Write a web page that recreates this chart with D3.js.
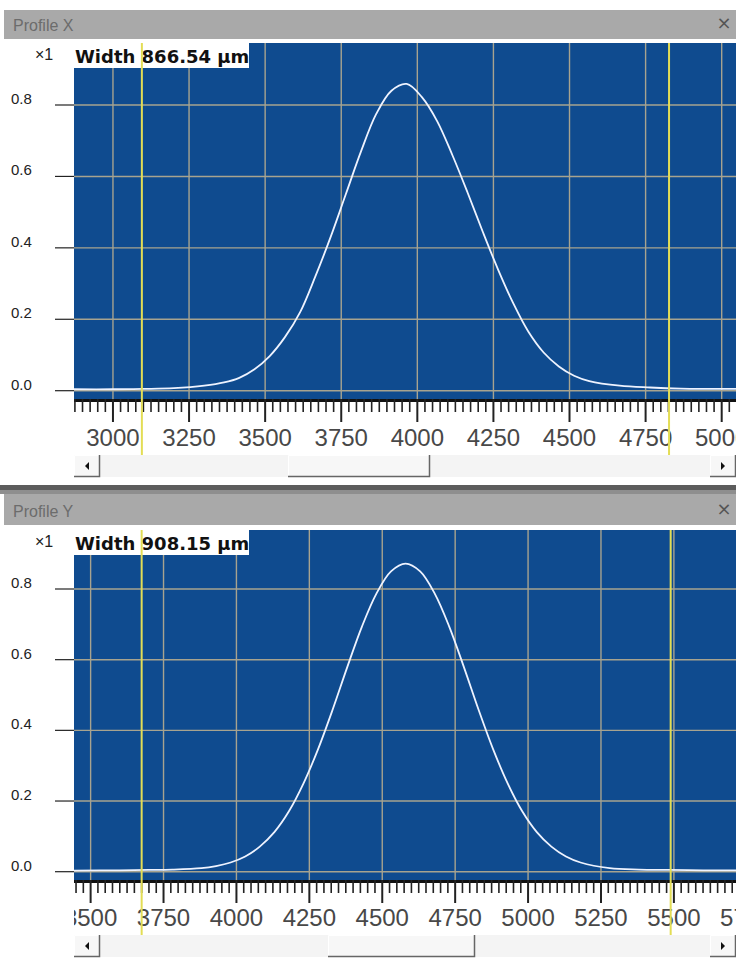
<!DOCTYPE html>
<html><head><meta charset="utf-8">
<script src="https://cdn.jsdelivr.net/npm/d3@7"></script>
<style>html,body{margin:0;padding:0;background:#ffffff;} svg{display:block;}</style>
</head><body>
<svg id="c" width="736" height="961"></svg>
<script>
// ---------- DATA ----------
const panelTitles = ["Profile X", "Profile Y"];
const widthLabels = ["Width 866.54 \u00b5m", "Width 908.15 \u00b5m"];
const scaleLabel = "\u00d71";

// Profile X (position in µm, normalized intensity)
const profileXPositions = [2872, 3000, 3100, 3200, 3300, 3365, 3415, 3465, 3515, 3565, 3615, 3665, 3715, 3765, 3815, 3865, 3915, 3965, 4015, 4065, 4115, 4165, 4215, 4265, 4315, 4365, 4415, 4465, 4515, 4565, 4665, 4765, 4865, 5047];
const profileXValues    = [0.004, 0.004, 0.005, 0.007, 0.014, 0.023, 0.036, 0.060, 0.097, 0.150, 0.220, 0.320, 0.430, 0.550, 0.670, 0.775, 0.840, 0.859, 0.822, 0.755, 0.660, 0.555, 0.445, 0.340, 0.245, 0.165, 0.107, 0.068, 0.042, 0.027, 0.014, 0.009, 0.006, 0.005];

// Profile Y
const profileYPositions = [3443, 3600, 3700, 3780, 3880, 3930, 3980, 4030, 4080, 4130, 4180, 4230, 4280, 4330, 4380, 4430, 4480, 4530, 4580, 4630, 4680, 4730, 4780, 4830, 4880, 4930, 4980, 5030, 5080, 5130, 5180, 5280, 5380, 5480, 5600, 5713];
const profileYValues    = [0.003, 0.004, 0.005, 0.006, 0.010, 0.016, 0.026, 0.043, 0.071, 0.112, 0.171, 0.250, 0.347, 0.459, 0.579, 0.693, 0.787, 0.850, 0.872, 0.850, 0.787, 0.693, 0.579, 0.459, 0.347, 0.250, 0.171, 0.112, 0.071, 0.043, 0.026, 0.010, 0.006, 0.005, 0.004, 0.004];

// Visible x ranges of each panel
const profileXDomain = [2872, 5047];
const profileYDomain = [3443, 5713];

// Cursor (yellow) positions
const profileXCursors = [3095, 4827];
const profileYCursors = [3675, 5489];

// Y ticks
const yTickValues = [0, 0.2, 0.4, 0.6, 0.8];
const yTickLabels = ["0.0", "0.2", "0.4", "0.6", "0.8"];
const majorTickStep = 250;
const minorTickStep = 25;

// ---------- LAYOUT ----------
const W = 736;
const plotLeft = 74, plotRight = 736;
const panels = [
  {title: panelTitles[0], label: widthLabels[0], pos: profileXPositions, val: profileXValues, domain: profileXDomain, cursors: profileXCursors,
   barTop: 10, barBottom: 39, plotTop: 43, y0: 390.7, y8: 105, plotBottom: 399, labelBase: 446, sbTop: 455, sbBottom: 477, thumb: [288, 430]},
  {title: panelTitles[1], label: widthLabels[1], pos: profileYPositions, val: profileYValues, domain: profileYDomain, cursors: profileYCursors,
   barTop: 494, barBottom: 525, plotTop: 530, y0: 871.7, y8: 589, plotBottom: 880, labelBase: 926, sbTop: 935, sbBottom: 957, thumb: [328, 475]}
];

const svg = d3.select("#c");
const defs = svg.append("defs");

// splitter between panels
svg.append("rect").attr("x", 0).attr("y", 485).attr("width", W).attr("height", 5).attr("fill", "#5c5c5c");
svg.append("rect").attr("x", 0).attr("y", 490).attr("width", W).attr("height", 4).attr("fill", "#8e8e8e");

panels.forEach((p, i) => {
  const g = svg.append("g");
  const x = d3.scaleLinear().domain(p.domain).range([plotLeft, plotRight]);
  const y = d3.scaleLinear().domain([0, 0.8]).range([p.y0, p.y8]);

  // title bar
  g.append("rect").attr("x", 4).attr("y", p.barTop).attr("width", W - 4).attr("height", p.barBottom - p.barTop).attr("fill", "#a9a9a9");
  g.append("text").attr("x", 13).attr("y", p.barBottom - 8).text(p.title)
    .attr("font-family", "Liberation Sans, Arial, sans-serif").attr("font-size", 16).attr("fill", "#6c6c6c");
  g.append("text").attr("x", 724).attr("y", p.barBottom - 10).attr("text-anchor", "middle").text("\u00d7")
    .attr("font-family", "DejaVu Sans, sans-serif").attr("font-size", 18).attr("fill", "#555");

  // clip for plot
  const clipId = "clip" + i;
  defs.append("clipPath").attr("id", clipId).append("rect")
    .attr("x", plotLeft).attr("y", p.plotTop).attr("width", plotRight - plotLeft).attr("height", p.plotBottom - p.plotTop);
  const clipLab = "cliplab" + i;
  defs.append("clipPath").attr("id", clipLab).append("rect")
    .attr("x", plotLeft).attr("y", p.plotBottom).attr("width", plotRight - plotLeft).attr("height", p.sbTop - p.plotBottom);

  // plot background
  g.append("rect").attr("x", plotLeft).attr("y", p.plotTop).attr("width", plotRight - plotLeft).attr("height", p.plotBottom - p.plotTop).attr("fill", "#0f4b8f");

  const pg = g.append("g").attr("clip-path", `url(#${clipId})`);
  // grid
  const majors = d3.range(Math.ceil(p.domain[0] / majorTickStep) * majorTickStep, p.domain[1] + 1, majorTickStep);
  pg.selectAll(".vg").data(majors).enter().append("line")
    .attr("x1", d => x(d)).attr("x2", d => x(d)).attr("y1", p.plotTop).attr("y2", p.plotBottom)
    .attr("stroke", "#a7a38f").attr("stroke-width", 1.4);
  pg.selectAll(".hg").data(yTickValues).enter().append("line")
    .attr("x1", plotLeft).attr("x2", plotRight).attr("y1", d => y(d)).attr("y2", d => y(d))
    .attr("stroke", "#a7a38f").attr("stroke-width", 1.4);

  // curve
  const line = d3.line().x(d => x(d[0])).y(d => y(d[1])).curve(d3.curveCatmullRom.alpha(0.5));
  pg.append("path").datum(d3.zip(p.pos, p.val)).attr("d", line)
    .attr("fill", "none").attr("stroke", "#eef3ff").attr("stroke-width", 1.8);

  // width label box
  g.append("rect").attr("x", plotLeft).attr("y", p.plotTop).attr("width", 175).attr("height", 25).attr("fill", "#ffffff");
  g.append("text").attr("x", plotLeft + 1).attr("y", p.plotTop + 20).text(p.label)
    .attr("font-family", "DejaVu Sans, sans-serif").attr("font-weight", "bold").attr("font-size", 18).attr("fill", "#111");
  g.append("text").attr("x", 35).attr("y", p.plotTop + 17).text(scaleLabel)
    .attr("font-family", "Liberation Sans, Arial, sans-serif").attr("font-size", 16).attr("fill", "#222");

  // y axis labels and tick dashes
  yTickValues.forEach((v, k) => {
    g.append("line").attr("x1", 55).attr("x2", plotLeft).attr("y1", y(v)).attr("y2", y(v)).attr("stroke", "#222").attr("stroke-width", 1.2);
    g.append("text").attr("x", 11).attr("y", y(v) - 1).text(yTickLabels[k])
      .attr("font-family", "Liberation Sans, Arial, sans-serif").attr("font-size", 15).attr("fill", "#222");
  });

  // tick ruler
  g.append("rect").attr("x", plotLeft).attr("y", p.plotBottom).attr("width", plotRight - plotLeft).attr("height", 3).attr("fill", "#111");
  const lg = g.append("g").attr("clip-path", `url(#${clipLab})`);
  const minors = d3.range(Math.ceil(p.domain[0] / minorTickStep) * minorTickStep, p.domain[1] + 1, minorTickStep)
    .filter(d => d % majorTickStep !== 0);
  lg.selectAll(".mt").data(minors).enter().append("line")
    .attr("x1", d => x(d)).attr("x2", d => x(d)).attr("y1", p.plotBottom).attr("y2", p.plotBottom + 13)
    .attr("stroke", "#222").attr("stroke-width", 1.6);
  lg.selectAll(".Mt").data(majors).enter().append("line")
    .attr("x1", d => x(d)).attr("x2", d => x(d)).attr("y1", p.plotBottom).attr("y2", p.plotBottom + 23)
    .attr("stroke", "#222").attr("stroke-width", 2);
  const labelTicks = d3.range(Math.floor(p.domain[0] / majorTickStep) * majorTickStep, p.domain[1] + majorTickStep * 2, majorTickStep);
  lg.selectAll(".tl").data(labelTicks).enter().append("text")
    .attr("x", d => x(d)).attr("y", p.labelBase).attr("text-anchor", "middle").text(d => d)
    .attr("font-family", "Liberation Sans, Arial, sans-serif").attr("font-size", 24).attr("fill", "#484848");

  // cursors
  g.selectAll(".cur").data(p.cursors).enter().append("line")
    .attr("x1", d => x(d)).attr("x2", d => x(d)).attr("y1", p.plotTop).attr("y2", p.sbTop)
    .attr("stroke", "#e3dd55").attr("stroke-width", 2);

  // scrollbar
  const sb = g.append("g");
  sb.append("rect").attr("x", plotLeft).attr("y", p.sbTop).attr("width", plotRight - plotLeft).attr("height", p.sbBottom - p.sbTop).attr("fill", "#f4f4f4");
  const button = (x0, x1) => {
    sb.append("rect").attr("x", x0).attr("y", p.sbTop).attr("width", x1 - x0).attr("height", p.sbBottom - p.sbTop).attr("fill", "#f7f7f7");
    sb.append("path").attr("d", `M${x0 + 0.5},${p.sbBottom} V${p.sbTop + 0.5} H${x1}`).attr("fill", "none").attr("stroke", "#ffffff").attr("stroke-width", 1);
    sb.append("path").attr("d", `M${x0},${p.sbBottom - 0.5} H${x1 - 0.5} V${p.sbTop}`).attr("fill", "none").attr("stroke", "#666").attr("stroke-width", 1.5);
  };
  button(plotLeft, 100);
  button(p.thumb[0], p.thumb[1]);
  button(710, 736);
  const cy = (p.sbTop + p.sbBottom) / 2;
  sb.append("path").attr("d", `M85,${cy} L89,${cy - 4} L89,${cy + 4} Z`).attr("fill", "#111");
  sb.append("path").attr("d", `M725,${cy} L721,${cy - 4} L721,${cy + 4} Z`).attr("fill", "#111");
});
</script>
</body></html>
